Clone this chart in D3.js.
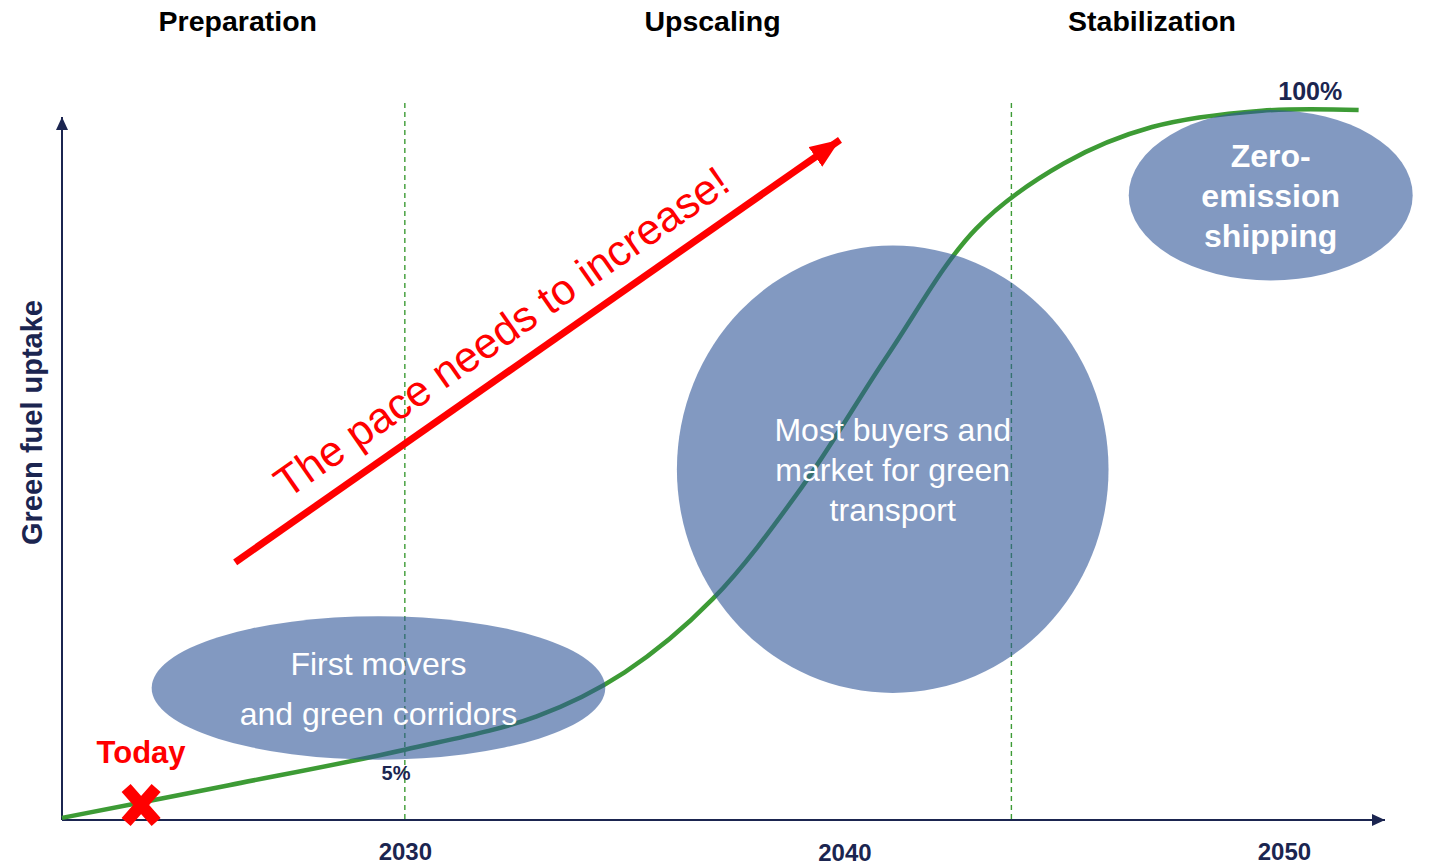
<!DOCTYPE html>
<html>
<head>
<meta charset="utf-8">
<script src="https://cdn.jsdelivr.net/npm/d3@7"></script>
<style>
  body { margin: 0; background: #fff; }
  text { font-family: "Liberation Sans", Arial, sans-serif; }
</style>
</head>
<body>
<div id="chart"></div>
<script>
// uptake curve, year -> % of fleet on green fuel
const years = [2022.2, 2026, 2030, 2033, 2035, 2037, 2039, 2041, 2043, 2045, 2047, 2049.5, 2051.7];
const uptake = [0.3, 4.9, 9.9, 14.6, 20.8, 31.1, 46.6, 65.6, 83.3, 92.5, 97.6, 99.9, 100];

const tickYears = [2030, 2040, 2050];
const phaseNames = ["Preparation", "Upscaling", "Stabilization"];
const phaseCentres = [2026.2, 2037.0, 2047.0];
const phaseBreaks = [2030, 2043.8];

const bubbleLines = [["First movers", "and green corridors"],
                     ["Most buyers and", "market for green", "transport"],
                     ["Zero-", "emission", "shipping"]];
const bubbleYear = [2029.4, 2041.1, 2049.7];
const bubblePct = [18.6, 49.4, 88.0];
const bubbleHalfYears = [5.16, 4.91, 3.23];
const bubbleHalfPct = [10.1, 31.5, 12.0];
const bubbleBold = [false, false, true];

const todayYear = 2024.0, todayPct = 2.1;
const marks = [{label: "5%", year: 2029.8, pct: 5.6}, {label: "100%", year: 2050.6, pct: 101.4}];
const paceFrom = [2026.14, 36.3], paceTo = [2039.9, 95.8];

const W = 1433, H = 866;
const navy = "#1b2550", green = "#3d9b35", red = "#ff0000";

const svg = d3.select("#chart").append("svg")
    .attr("width", W).attr("height", H);

const x = d3.scaleLinear().domain([2022.2, 2052.3]).range([62, 1385]);
const y = d3.scaleLinear().domain([0, 100]).range([820, 110]);

const defs = svg.append("defs");
function arrowMarker(id, color, w, h) {
    defs.append("marker")
        .attr("id", id).attr("viewBox", `0 0 ${w} ${h}`)
        .attr("refX", w).attr("refY", h / 2)
        .attr("markerWidth", w).attr("markerHeight", h)
        .attr("markerUnits", "userSpaceOnUse")
        .attr("orient", "auto")
        .append("path").attr("d", `M0,0 L${w},${h / 2} L0,${h} Z`).attr("fill", color);
}
arrowMarker("ax", navy, 13, 12);
arrowMarker("red", red, 30, 24);

// phase titles
svg.selectAll(".phase").data(phaseNames).join("text")
    .attr("x", (d, i) => x(phaseCentres[i])).attr("y", 31)
    .attr("text-anchor", "middle")
    .attr("font-size", 28.5).attr("font-weight", "bold").attr("fill", "#000")
    .text(d => d);

// dashed phase boundaries
svg.selectAll(".brk").data(phaseBreaks).join("line")
    .attr("x1", d => x(d)).attr("x2", d => x(d))
    .attr("y1", y(101)).attr("y2", y(0))
    .attr("stroke", green).attr("stroke-width", 1.4)
    .attr("stroke-dasharray", "5,4");

// axes
svg.append("line")
    .attr("x1", x(2022.2)).attr("y1", y(0)).attr("x2", x(2052.3)).attr("y2", y(0))
    .attr("stroke", navy).attr("stroke-width", 2).attr("marker-end", "url(#ax)");
svg.append("line")
    .attr("x1", x(2022.2)).attr("y1", y(0)).attr("x2", x(2022.2)).attr("y2", 117)
    .attr("stroke", navy).attr("stroke-width", 2).attr("marker-end", "url(#ax)");

const xAxis = svg.append("g")
    .attr("transform", `translate(0, ${y(0)})`)
    .call(d3.axisBottom(x).tickValues(tickYears).tickSize(0).tickPadding(22).tickFormat(d3.format("d")));
xAxis.select(".domain").remove();
xAxis.selectAll("text")
    .attr("font-family", "Liberation Sans, Arial, sans-serif")
    .attr("font-size", 24).attr("font-weight", "bold").attr("fill", navy)
    .attr("dy", (d, i) => i === 1 ? "0.8em" : "0.75em");

svg.append("text")
    .attr("transform", `translate(42, ${(300 + 545) / 2}) rotate(-90)`)
    .attr("text-anchor", "middle")
    .attr("font-size", 29).attr("font-weight", "bold").attr("fill", navy)
    .text("Green fuel uptake");

// uptake curve
const pts = years.map((d, i) => [d, uptake[i]]);
const line = d3.line()
    .x(d => x(d[0])).y(d => y(d[1]))
    .curve(d3.curveCatmullRom.alpha(0.5));
svg.append("path")
    .datum(pts)
    .attr("d", line)
    .attr("fill", "none").attr("stroke", green).attr("stroke-width", 4.5);

// bubbles
svg.selectAll(".bubble").data(bubbleYear).join("ellipse")
    .attr("cx", d => x(d))
    .attr("cy", (d, i) => y(bubblePct[i]))
    .attr("rx", (d, i) => x(d + bubbleHalfYears[i]) - x(d))
    .attr("ry", (d, i) => y(0) - y(bubbleHalfPct[i]))
    .attr("fill", "#2f5597").attr("fill-opacity", 0.6);

const lineGap = [50, 40, 40];
bubbleLines.forEach((lines, i) => {
    const cx = x(bubbleYear[i]), cy = y(bubblePct[i]);
    const t = svg.append("text")
        .attr("text-anchor", "middle")
        .attr("font-size", 32).attr("fill", "#fff")
        .attr("font-weight", bubbleBold[i] ? "bold" : "normal");
    lines.forEach((s, j) => {
        t.append("tspan")
            .attr("x", cx)
            .attr("y", cy + (j - (lines.length - 1) / 2) * lineGap[i] + 12)
            .text(s);
    });
});

// today marker
const tx = x(todayYear), ty = y(todayPct);
svg.append("path")
    .attr("d", `M${tx - 15},${ty - 17} L${tx + 15},${ty + 17} M${tx + 15},${ty - 17} L${tx - 15},${ty + 17}`)
    .attr("stroke", red).attr("stroke-width", 12);
svg.append("text")
    .attr("x", tx).attr("y", ty - 42)
    .attr("text-anchor", "middle")
    .attr("font-size", 31).attr("font-weight", "bold").attr("fill", red)
    .text("Today");

// percent marks
svg.selectAll(".pct").data(marks).join("text")
    .attr("x", d => x(d.year)).attr("y", d => y(d.pct))
    .attr("text-anchor", "middle")
    .attr("font-size", (d, i) => i === 0 ? 20 : 25)
    .attr("font-weight", "bold").attr("fill", navy)
    .text(d => d.label);

// pace arrow
const p0 = [x(paceFrom[0]), y(paceFrom[1])], p1 = [x(paceTo[0]), y(paceTo[1])];
svg.append("line")
    .attr("x1", p0[0]).attr("y1", p0[1]).attr("x2", p1[0]).attr("y2", p1[1])
    .attr("stroke", red).attr("stroke-width", 7).attr("marker-end", "url(#red)");
const ang = Math.atan2(p1[1] - p0[1], p1[0] - p0[0]) * 180 / Math.PI;
svg.append("text")
    .attr("transform", `translate(510, 344) rotate(${ang})`)
    .attr("text-anchor", "middle")
    .attr("font-size", 43).attr("fill", red)
    .text("The pace needs to increase!");
</script>
</body>
</html>
